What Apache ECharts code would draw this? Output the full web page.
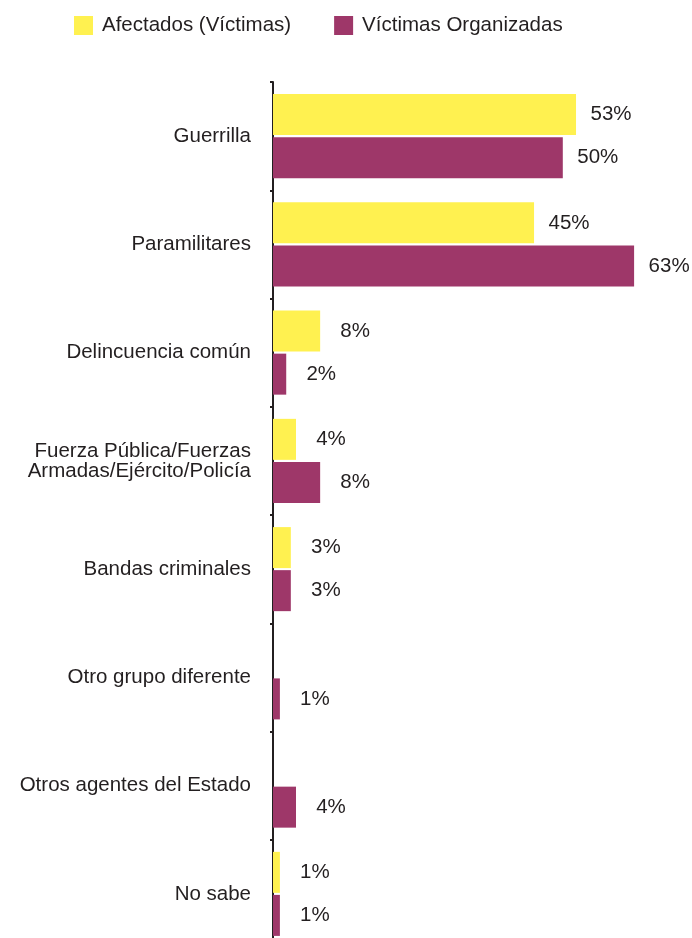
<!DOCTYPE html>
<html>
<head>
<meta charset="utf-8">
<script src="https://cdn.jsdelivr.net/npm/echarts@6/dist/echarts.min.js"></script>
<style>
  html, body { margin: 0; padding: 0; background: #ffffff; overflow: hidden; }
  #chart { width: 692px; height: 948px; }
</style>
</head>
<body>
<div id="chart"></div>
<script>
const categories = [
  'Guerrilla',
  'Paramilitares',
  'Delincuencia común',
  'Fuerza Pública/Fuerzas\nArmadas/Ejército/Policía',
  'Bandas criminales',
  'Otro grupo diferente',
  'Otros agentes del Estado',
  'No sabe'
];
const seriesNames = ['Afectados (Víctimas)', 'Víctimas Organizadas'];
const afectados = [52.7, 45.4, 8.2, 4.0, 3.1, 0, 0, 1.2];
const organizadas = [50.4, 62.8, 2.3, 8.2, 3.1, 1.2, 4.0, 1.2];
const colors = ['#FFF150', '#9E3769'];

const FONT = '"Liberation Sans", Arial, Helvetica, sans-serif';
const TEXT = '#231f20';

const chart = echarts.init(document.getElementById('chart'), null, { renderer: 'canvas' });

function labelCfg() {
  return {
    show: true,
    position: 'right',
    distance: 35,
    align: 'center',
    verticalAlign: 'middle',
    color: TEXT,
    fontFamily: FONT,
    fontSize: 20.5,
    formatter: p => (p.value > 0 ? Math.round(p.value) + '%' : '')
  };
}

chart.setOption({
  animation: false,
  backgroundColor: '#ffffff',
  legend: {
    left: 74,
    top: 15,
    padding: 0,
    itemWidth: 19,
    itemHeight: 19,
    itemGap: 43,
    icon: 'rect',
    data: seriesNames,
    textStyle: { color: TEXT, fontFamily: FONT, fontSize: 20.5, padding: [0, 0, 0, 4] }
  },
  grid: { left: 273, right: 16.5, top: 82, bottom: 0, containLabel: false },
  xAxis: {
    type: 'value',
    min: 0,
    max: 70,
    show: false
  },
  yAxis: {
    type: 'category',
    inverse: true,
    data: categories,
    axisLine: { show: true, lineStyle: { color: TEXT, width: 2 } },
    axisTick: { show: true, inside: false, length: 3, lineStyle: { color: TEXT, width: 2 } },
    axisLabel: {
      margin: 22,
      color: TEXT,
      fontFamily: FONT,
      fontSize: 20.5,
      lineHeight: 20,
      align: 'right'
    },
    splitLine: { show: false }
  },
  series: [
    {
      name: seriesNames[0],
      type: 'bar',
      data: afectados,
      barWidth: 41,
      barGap: '5%',
      itemStyle: { color: colors[0] },
      label: labelCfg()
    },
    {
      name: seriesNames[1],
      type: 'bar',
      data: organizadas,
      barWidth: 41,
      barGap: '5%',
      itemStyle: { color: colors[1] },
      label: labelCfg()
    }
  ]
});
</script>
</body>
</html>
